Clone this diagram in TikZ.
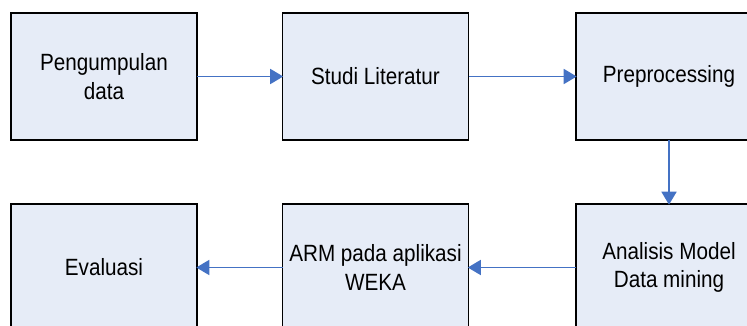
\documentclass[tikz,border=0pt]{standalone}
\usepackage{fontspec}
\setmainfont{Liberation Sans}[FakeStretch=0.88]
\usetikzlibrary{arrows.meta}
\definecolor{boxfill}{HTML}{E6ECF7}
\definecolor{flowblue}{HTML}{4472C4}
\tikzset{
  stepbox/.style={draw=black, line width=1.5pt, fill=boxfill,
    minimum width=186pt, minimum height=127pt, inner sep=0pt, outer sep=0pt,
    align=center, font=\fontsize{23.5}{28.5}\selectfont},
  flow/.style={draw=flowblue, line width=1.7pt,
    -{Triangle[length=13pt,width=15pt]}, shorten >=-0.7pt}
}
\begin{document}
\begin{tikzpicture}[x=1pt,y=-1pt]
  \clip (0,0) rectangle (747,326);
  \fill[white] (0,0) rectangle (747,326);
  % upper row
  \node[stepbox] (kumpul) at (104,76.5) {Pengumpulan\\data};
  \node[stepbox] (studi)  at (375.5,76.5) {Studi Literatur};
  \node[stepbox] (prep)   at (669,76.5) {Preprocessing};
  % lower row
  \node[stepbox] (eval)   at (104,267.5) {Evaluasi};
  \node[stepbox] (arm)    at (375.5,267.5) {ARM pada aplikasi\\WEKA};
  \node[stepbox] (model)  at (669,267.5) {Analisis Model\\Data mining};
  % flow of the steps
  \draw[flow] (kumpul.east) -- (studi.west);
  \draw[flow] (studi.east) -- (prep.west);
  \draw[flow] (prep.south) -- (model.north);
  \draw[flow] (model.west) -- (arm.east);
  \draw[flow] (arm.west) -- (eval.east);
\end{tikzpicture}
\end{document}
